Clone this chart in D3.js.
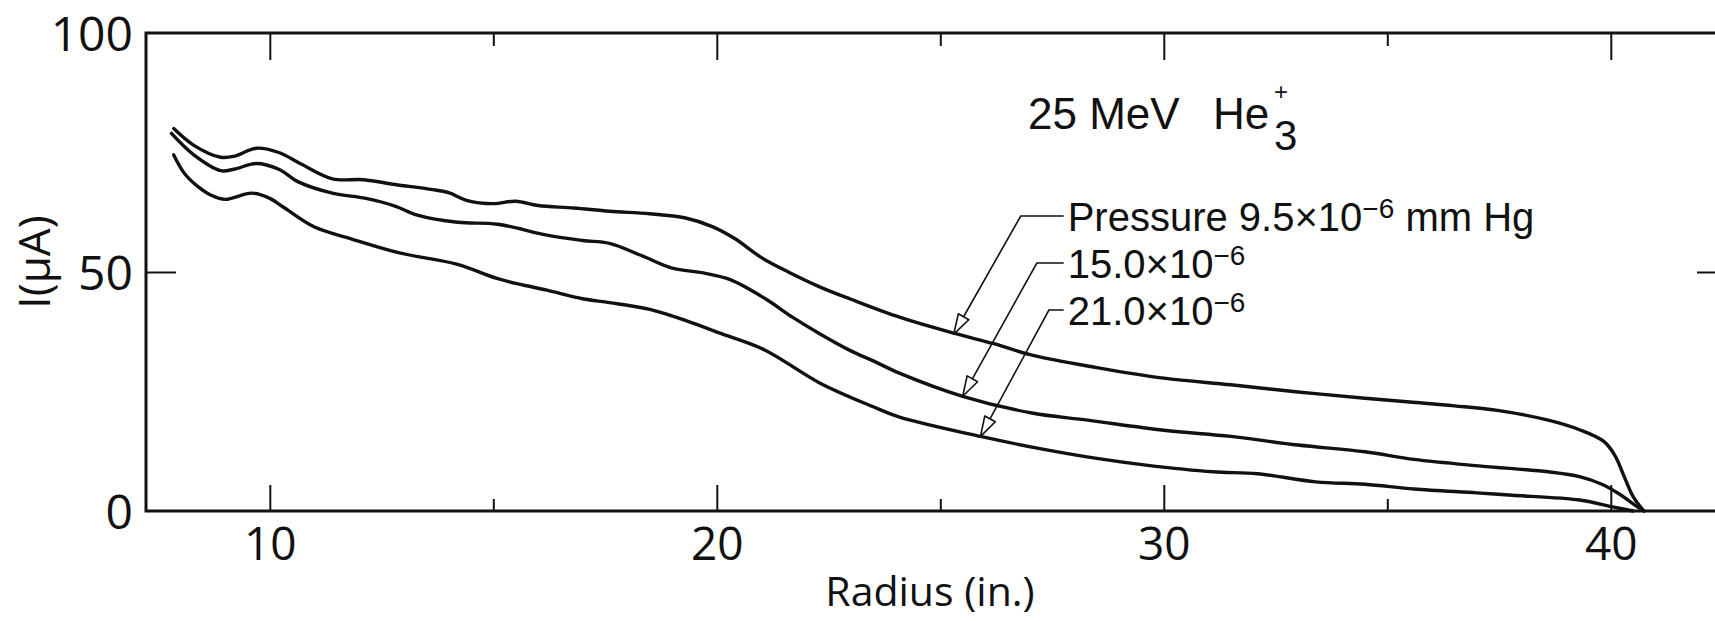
<!DOCTYPE html>
<html><head><meta charset="utf-8">
<script src="https://cdn.jsdelivr.net/npm/d3@7"></script>
<style>
body{margin:0;background:#fff}
svg{display:block;background:#fff}
text{font-family:"Open Sans","DejaVu Sans",sans-serif;fill:#111}
text.note{font-family:"Liberation Sans",Arial,sans-serif}
</style>
</head><body>
<svg id="chart" width="1715" height="621"></svg>
<script>
// ---- data ----
const xTickMajor = [10, 20, 30, 40];
const xTickMinor = [15, 25, 35];
const yTickLabels = [0, 50, 100];
const yTickMarks = [50];

const seriesLabels = ["9.5", "15.0", "21.0"];

const radius95 = [7.85,8.3,8.9,9.2,9.7,10.2,10.7,11.4,12.1,12.8,13.6,14.0,14.4,15.0,15.5,16.0,16.8,17.6,18.5,19.3,19.9,20.4,21.0,21.6,22.3,23.0,24.07,25.3,26.2,27.05,28.5,30.0,31.5,33.0,34.5,35.5,36.5,37.5,38.6,39.3,39.85,40.1,40.3,40.5,40.74];
const current95 = [80.0,76.5,74.0,74.2,75.9,75.0,72.6,69.5,69.3,68.3,67.3,66.6,65.0,64.3,64.8,63.9,63.4,62.7,62.2,61.3,59.5,57.0,53.0,50.0,46.9,44.3,40.6,37.2,35.0,32.6,30.0,27.8,26.4,24.9,23.6,22.8,22.0,21.0,19.0,17.0,14.5,11.5,7.2,3.0,0];

const radius150 = [7.8,8.3,8.9,9.2,9.7,10.2,10.65,11.4,12.15,12.8,13.3,14.2,15.1,16.2,17.0,17.6,18.3,19.0,19.7,20.3,21.07,21.7,22.3,23.0,23.5,24.07,25.5,27.05,28.3,30.0,31.5,33.0,34.5,35.6,37.1,38.6,39.3,39.8,40.2,40.5,40.74];
const current150 = [79.0,74.5,71.2,71.5,72.7,71.5,68.8,66.5,65.4,63.8,61.9,60.4,60.0,57.7,56.6,56.0,53.5,50.8,49.8,48.4,44.5,40.5,37.1,33.5,31.4,28.9,24.0,20.5,19.0,16.9,15.6,13.8,12.4,10.8,9.4,8.2,7.2,5.6,3.5,1.5,0];

const radius210 = [7.85,8.1,8.4,8.7,9.0,9.6,10.0,10.3,11.0,11.8,12.9,14.2,15.1,16.2,17.0,17.6,18.5,19.1,20.1,21.07,22.3,23.5,24.07,25.9,27.2,28.5,29.6,31.1,32.1,33.4,34.5,35.6,37.0,37.8,39.3,40.07,40.5];
const current210 = [74.5,70.5,67.8,66.0,65.2,66.5,65.4,63.6,59.4,57.0,54.0,51.6,48.6,46.2,44.4,43.6,42.2,40.5,37.1,33.7,26.8,21.8,19.7,15.6,13.1,11.0,9.6,8.2,7.8,6.1,5.6,4.6,3.8,3.3,2.3,0.8,0];

// arrow tips on the curves (radius, current), elbows of leaders, label anchor
const arrowTipR = [25.3, 25.5, 25.9];
const arrowTipI = [37.0, 24.0, 15.6];
const elbowR = [26.8, 27.16, 27.43];
const labelR = 27.85;

// ---- layout ----
const svg = d3.select("#chart");
const x = d3.scaleLinear().domain([7.23, 42.6]).range([146, 1727]);
const y = d3.scaleLinear().domain([0, 100]).range([511, 33]);
const ink = "#111";

// frame
svg.append("rect")
  .attr("x", x(7.23)).attr("y", y(100))
  .attr("width", x(42.6) - x(7.23)).attr("height", y(0) - y(100))
  .attr("fill", "none").attr("stroke", ink).attr("stroke-width", 3);

function tickAxis(axis, tr, size) {
  const g = svg.append("g").attr("transform", tr).call(axis.tickSize(size).tickFormat(""));
  g.select(".domain").remove();
  g.selectAll("text").remove();
  g.selectAll("line").attr("stroke", ink).attr("stroke-width", 2);
  return g;
}
// inward ticks
tickAxis(d3.axisTop(x).tickValues(xTickMajor), `translate(0,${y(0)})`, 26);
tickAxis(d3.axisTop(x).tickValues(xTickMinor), `translate(0,${y(0)})`, 12);
tickAxis(d3.axisBottom(x).tickValues(xTickMajor), `translate(0,${y(100)})`, 27);
tickAxis(d3.axisBottom(x).tickValues(xTickMinor), `translate(0,${y(100)})`, 13);
tickAxis(d3.axisRight(y).tickValues(yTickMarks), `translate(${x(7.23)},0)`, 30);
tickAxis(d3.axisLeft(y).tickValues(yTickMarks), `translate(${x(42.6)},0)`, 30);

// tick labels
const xl = svg.append("g").attr("transform", `translate(0,${y(0)})`)
  .call(d3.axisBottom(x).tickValues(xTickMajor).tickSize(0).tickPadding(16).tickFormat(d3.format("d")));
xl.select(".domain").remove();
xl.selectAll("text").attr("font-size", 46).attr("font-family", null).attr("fill", ink);

const yl = svg.append("g").attr("transform", `translate(${x(7.23)},0)`)
  .call(d3.axisLeft(y).tickValues(yTickLabels).tickSize(0).tickPadding(13).tickFormat(d3.format("d")));
yl.select(".domain").remove();
yl.selectAll("text").attr("font-size", 48).attr("font-family", null).attr("fill", ink).attr("dy", "0.37em");

// axis titles
svg.append("text").attr("x", 930).attr("y", 606).attr("text-anchor", "middle")
  .attr("font-size", 41).text("Radius (in.)");
svg.append("text").attr("transform", "translate(50,262) rotate(-90)").attr("text-anchor", "middle")
  .attr("font-size", 44).text("I(μA)");

// curves
const line = d3.line().x(d => x(d[0])).y(d => y(d[1])).curve(d3.curveCatmullRom.alpha(0.5));
const series = [
  d3.zip(radius95, current95),
  d3.zip(radius150, current150),
  d3.zip(radius210, current210)
];
svg.append("g").selectAll("path").data(series).join("path")
  .attr("d", line).attr("fill", "none").attr("stroke", ink)
  .attr("stroke-width", 3.4).attr("stroke-linejoin", "round").attr("stroke-linecap", "round");

// title annotation
const ttl = svg.append("text").attr("class", "note").attr("x", 1028).attr("y", 129).attr("font-size", 44);
ttl.append("tspan").text("25 MeV");
ttl.append("tspan").attr("x", 1213).text("He");
ttl.append("tspan").attr("x", 1274).attr("dy", -29).attr("font-size", 24).text("+");
ttl.append("tspan").attr("x", 1274).attr("dy", 50).attr("font-size", 42).text("3");

// legend text
const lineY = [231, 278, 325];
const leg = svg.append("text").attr("class", "note").attr("font-size", 40);
lineY.forEach((by, i) => {
  const first = leg.append("tspan").attr("x", x(labelR)).attr("y", by);
  if (i === 0) { first.text("Pressure "); leg.append("tspan").text(seriesLabels[i] + "×10"); }
  else first.text(seriesLabels[i] + "×10");
  leg.append("tspan").attr("dy", -13).attr("font-size", 28).text("−6");
  if (i === 0) leg.append("tspan").attr("dy", 13).text(" mm Hg");
});

// leaders with open arrow heads
lineY.forEach((by, i) => {
  const ly = by - 15;
  const ex = x(elbowR[i]);
  const tx = x(arrowTipR[i]), ty = y(arrowTipI[i]);
  const ang = Math.atan2(ty - ly, tx - ex);
  const L = 20, W = 6;
  const bx = tx - L * Math.cos(ang), byy = ty - L * Math.sin(ang);
  svg.append("path")
    .attr("d", `M${x(labelR) - 4},${ly}L${ex},${ly}L${bx},${byy}`)
    .attr("fill", "none").attr("stroke", ink).attr("stroke-width", 1.6);
  const px = -Math.sin(ang), py = Math.cos(ang);
  svg.append("path")
    .attr("d", `M${tx},${ty}L${bx + W * px},${byy + W * py}L${bx - W * px},${byy - W * py}Z`)
    .attr("fill", "#fff").attr("stroke", ink).attr("stroke-width", 1.6).attr("stroke-linejoin", "round");
});
</script>
</body></html>
